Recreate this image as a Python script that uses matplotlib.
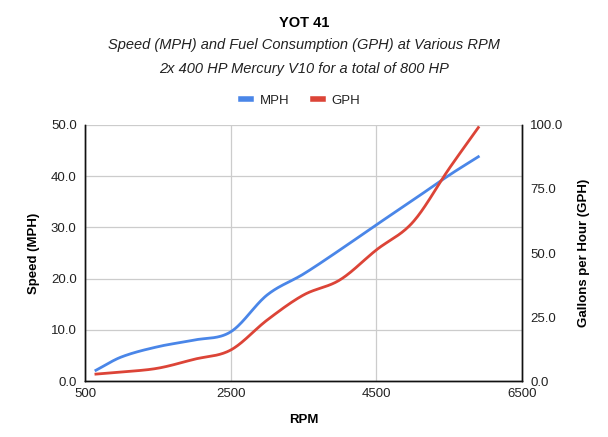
import numpy as np
import matplotlib
matplotlib.use("Agg")
import matplotlib.pyplot as plt

plt.rcParams['font.family'] = ['Liberation Sans', 'DejaVu Sans']

# ---- data ----
rpm = [650, 1000, 1500, 2000, 2500, 3000, 3500, 4000, 4500, 5000, 5500, 5900]
mph = [2.1, 4.7, 6.7, 8.0, 9.6, 16.8, 20.9, 25.6, 30.5, 35.3, 40.2, 43.8]
gph = [2.7, 3.5, 5.0, 8.5, 12.1, 23.8, 33.6, 39.5, 51.2, 62.0, 83.0, 99.0]

x_ticks = [500, 2500, 4500, 6500]
mph_ticks = [0, 10, 20, 30, 40, 50]
gph_ticks = [0, 25, 50, 75, 100]

BLUE = '#4a86e8'
RED = '#dc4437'


def smooth(x, y, n=30):
    # cardinal (catmull-rom) spline just for drawing the line
    x = np.asarray(x, float)
    y = np.asarray(y, float)
    m = np.zeros_like(y)
    m[1:-1] = (y[2:] - y[:-2]) / (x[2:] - x[:-2])
    m[0] = (y[1] - y[0]) / (x[1] - x[0])
    m[-1] = (y[-1] - y[-2]) / (x[-1] - x[-2])
    xs, ys = [], []
    for i in range(len(x) - 1):
        h = x[i + 1] - x[i]
        t = np.linspace(0, 1, n, endpoint=False)
        h00 = 2 * t**3 - 3 * t**2 + 1
        h10 = t**3 - 2 * t**2 + t
        h01 = -2 * t**3 + 3 * t**2
        h11 = t**3 - t**2
        xs.append(x[i] + t * h)
        ys.append(h00 * y[i] + h10 * h * m[i] + h01 * y[i + 1] + h11 * h * m[i + 1])
    xs.append([x[-1]])
    ys.append([y[-1]])
    return np.concatenate(xs), np.concatenate(ys)


fig = plt.figure(figsize=(6.08, 4.37), dpi=100)
ax = fig.add_axes([0.1398, 0.1281, 0.7188, 0.5859])
ax2 = ax.twinx()

sx, sy = smooth(rpm, mph)
l1, = ax.plot(sx, sy, color=BLUE, lw=2, label='MPH')
gx, gy = smooth(rpm, gph)
l2, = ax2.plot(gx, gy, color=RED, lw=2, label='GPH')

ax.set_xlim(500, 6500)
ax.set_ylim(0, 50)
ax2.set_ylim(0, 100)
ax.set_xticks(x_ticks)
ax.set_yticks(mph_ticks)
ax.set_yticklabels(['%.1f' % v for v in mph_ticks])
ax2.set_yticks(gph_ticks)
ax2.set_yticklabels(['%.1f' % v for v in gph_ticks])

ax.grid(True, color='#cccccc', lw=0.9)
ax.set_axisbelow(True)
for a in (ax, ax2):
    a.tick_params(length=0, labelsize=9.5, colors='#222222')
    a.spines['top'].set_visible(False)
    for s in ('left', 'right', 'bottom'):
        a.spines[s].set_color('#111111')
        a.spines[s].set_linewidth(1)
ax.tick_params(axis='y', pad=6)
ax2.tick_params(axis='y', pad=6)
ax.tick_params(axis='x', pad=5)

ax.set_xlabel('RPM', fontweight='bold', fontsize=9.5, labelpad=10)
ax.set_ylabel('Speed (MPH)', fontweight='bold', fontsize=9.5, labelpad=8)
ax2.set_ylabel('Gallons per Hour (GPH)', fontweight='bold', fontsize=9.5, labelpad=10)

fig.text(0.5, 0.948, 'YOT 41', ha='center', va='center', fontweight='bold', fontsize=10.5)
fig.text(0.5, 0.897, 'Speed (MPH) and Fuel Consumption (GPH) at Various RPM',
         ha='center', va='center', style='italic', fontsize=10.5, color='#222222')
fig.text(0.5, 0.843, '2x 400 HP Mercury V10 for a total of 800 HP',
         ha='center', va='center', style='italic', fontsize=10.5, color='#222222')

fig.legend([l1, l2], ['MPH', 'GPH'], loc='center', bbox_to_anchor=(0.495, 0.770),
           ncol=2, frameon=False, fontsize=9.5, handlelength=0.7, handletextpad=0.7,
           columnspacing=1.8, labelcolor='#222222')
for h in fig.legends[0].get_lines():
    h.set_linewidth(4)

fig.savefig('out.png', dpi=100)
